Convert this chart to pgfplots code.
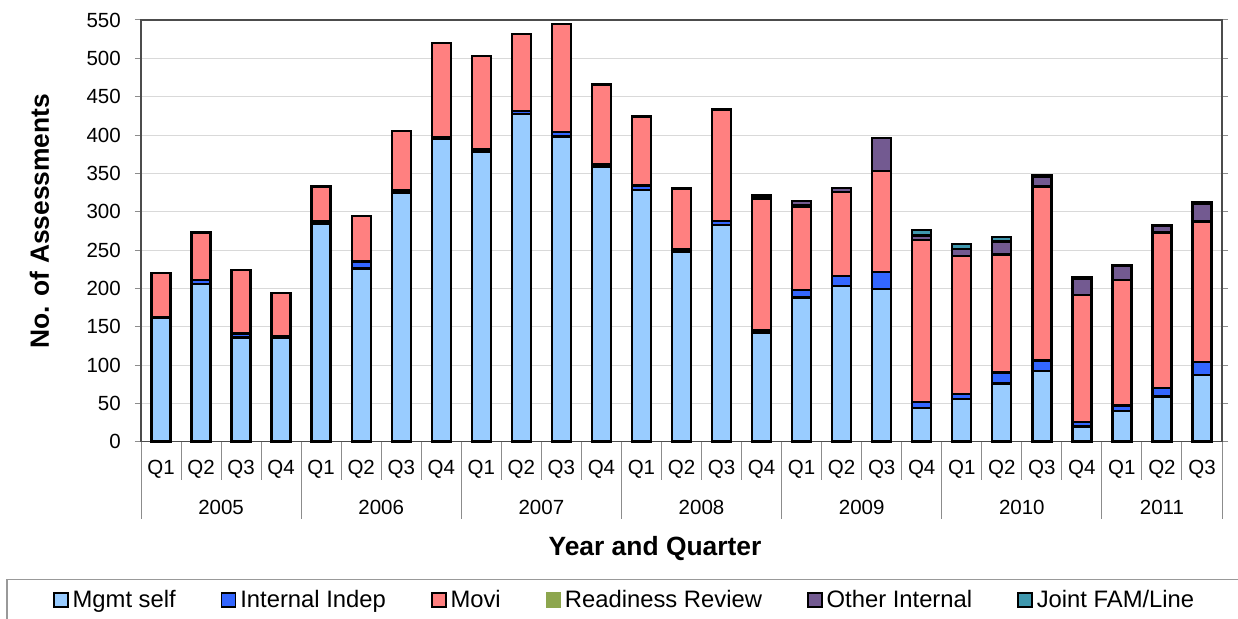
\documentclass[border=0pt]{standalone}
\usepackage{pgfplots}
\usepackage{pgfplotstable}
\pgfplotsset{compat=1.18}
\usepackage{fontspec}
\setmainfont{Liberation Sans}

\definecolor{mgmt}{HTML}{99CCFF}
\definecolor{indep}{HTML}{3366FF}
\definecolor{movi}{HTML}{FF8080}
\definecolor{ready}{HTML}{8DA64E}
\definecolor{other}{HTML}{735A91}
\definecolor{joint}{HTML}{3F98AE}
\definecolor{sepgray}{HTML}{8C8C8C}

% assessments per quarter, by assessment type
\pgfplotstableread{
q  mgmt indep movi ready other joint
0  161  2   57   0  0  0
1  206  5   62   0  0  0
2  136  5   83   0  0  0
3  135  2   57   0  0  0
4  284  3   46   0  0  0
5  226  9   59   0  0  0
6  325  3   77   0  0  0
7  395  2   123  0  0  0
8  378  3   122  0  0  0
9  427  4   101  0  0  0
10 398  6   141  0  0  0
11 359  3   104  0  0  0
12 328  6   90   0  0  0
13 248  3   79   0  0  0
14 283  5   145  0  0  0
15 142  3   172  0  4  0
16 188  10  109  1  6  0
17 203  13  110  0  5  0
18 199  22  132  0  43 0
19 44   8   211  0  6  7
20 56   6   180  0  9  7
21 76   14  154  0  17 6
22 92   14  227  0  13 1
23 20   6   165  0  21 2
24 40   7   164  0  19 0
25 59   11  203  0  9  0
26 87   17  183  0  23 3
}\assess

\begin{document}
\begin{tikzpicture}
\path[use as bounding box] (-70.5pt,-88.65pt) rectangle (548.5pt,220.85pt);
\begin{axis}[
  scale only axis,
  width=540.5pt, height=210.85pt,
  ybar stacked, bar width=9.5pt,
  xmin=-0.5, xmax=26.5, ymin=0, ymax=550,
  ytick={0,50,...,550},
  ymajorgrids,
  grid style={color=black!15, line width=0.5pt},
  axis line style={black!70, line width=0.6pt},
  tick align=outside,
  major tick length=3pt,
  ytick style={sepgray, line width=0.5pt},
  xtick style={draw=none},
  xtick={0,...,26},
  xticklabels={Q1,Q2,Q3,Q4,Q1,Q2,Q3,Q4,Q1,Q2,Q3,Q4,Q1,Q2,Q3,Q4,Q1,Q2,Q3,Q4,Q1,Q2,Q3,Q4,Q1,Q2,Q3},
  extra x ticks={1.5,5.5,9.5,13.5,17.5,21.5,25},
  extra x tick labels={2005,2006,2007,2008,2009,2010,2011},
  extra x tick style={xtick style={draw=none}, grid=none,
     xticklabel style={yshift=-20pt}},
  /pgf/number format/assume math mode=true,
  /pgf/number format/1000 sep={},
  ticklabel style={font=\fontsize{10.25}{12}\selectfont},
  yticklabel style={xshift=-3.6pt},
  xticklabel style={anchor=base, yshift=-13.3pt},
  ylabel={No. of Assessments},
  xlabel={Year and Quarter},
  ylabel style={at={(axis description cs:-0.0939,0.523)}, rotate=0, anchor=center,
     font=\fontsize{13.2}{15}\selectfont\bfseries},
  xlabel style={at={(axis description cs:0.4755,-0.2687)}, anchor=base,
     font=\fontsize{13.2}{15}\selectfont\bfseries},
  legend columns=6,
  legend style={at={(axis description cs:-0.1245,-0.3754)}, anchor=west,
     draw=black!40, line width=0.6pt,
     font=\fontsize{11.9}{13}\selectfont,
     inner xsep=23pt, inner ysep=3pt,
     /tikz/every even column/.append style={column sep=20.5pt}},
  sq/.style={legend image code/.code={\draw[##1, line width=0.8pt] (0pt,-3.5pt) rectangle (7pt,3.5pt);}},
  sqplain/.style={legend image code/.code={\fill[ready] (-0.3pt,-3.8pt) rectangle (7.3pt,3.8pt);}},
  clip=false,
]
\addplot+[fill=mgmt,  draw=black, line width=1.2pt, sq] table[x=q, y=mgmt]  {\assess};
\addplot+[fill=indep, draw=black, line width=1.2pt, sq] table[x=q, y=indep] {\assess};
\addplot+[fill=movi,  draw=black, line width=1.2pt, sq] table[x=q, y=movi]  {\assess};
\addplot+[fill=ready, draw=none, sqplain] table[x=q, y=ready] {\assess};
\addplot+[fill=other, draw=black, line width=1.2pt, sq] table[x=q, y=other] {\assess};
\addplot+[fill=joint, draw=black, line width=1.2pt, sq] table[x=q, y=joint] {\assess};
\legend{Mgmt self,Internal Indep,Movi,Readiness Review,Other Internal,Joint FAM/Line}
\end{axis}
% quarter and year dividers of the category axis
\foreach \i in {0,...,27}{
  \draw[sepgray, line width=0.5pt] ({\i*540.5pt/27},0) -- ++(0,-19pt);
}
\foreach \i in {0,4,8,12,16,20,24,27}{
  \draw[sepgray, line width=0.5pt] ({\i*540.5pt/27},0) -- ++(0,-38.5pt);
}
\end{tikzpicture}
\end{document}
